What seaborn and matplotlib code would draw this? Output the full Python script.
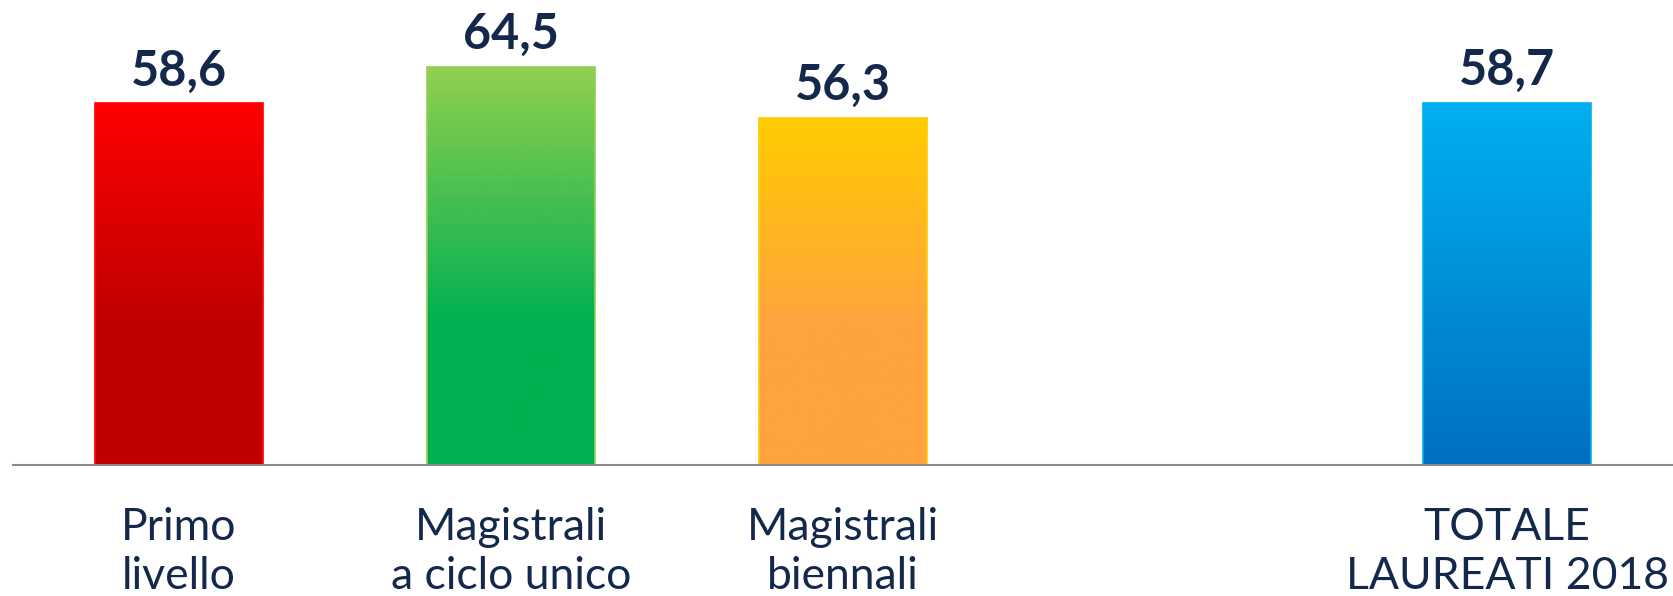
import numpy as np
import seaborn as sns
import matplotlib.pyplot as plt
from matplotlib.colors import LinearSegmentedColormap

# Data
categories = ["Primo\nlivello", "Magistrali\na ciclo unico", "Magistrali\nbiennali", "TOTALE\nLAUREATI 2018"]
values = [58.6, 64.5, 56.3, 58.7]
top_colors = ["#FF0000", "#92D050", "#FFCC00", "#00B0F0"]
bottom_colors = ["#C00000", "#00B050", "#FFA33F", "#0070C0"]
# fraction of the bar (from the top) covered by the gradient
grad_span = [0.6, 0.64, 0.6, 1.0]

# blank slot between the three types and the total
order = categories[:3] + [" "] + categories[3:]

navy = "#14284B"

sns.set_theme(style="white")
plt.rcParams['font.family'] = ['Lato', 'DejaVu Sans']

fig = plt.figure(figsize=(16.73, 5.96), dpi=100)
ax = fig.add_axes([13 / 1673, 131 / 596, 1660 / 1673, 465 / 596])

sns.barplot(x=categories, y=values, hue=categories, order=order,
            palette=dict(zip(categories, bottom_colors)), width=0.506,
            legend=False, ax=ax)

# gradient fill clipped to each bar
bars = sorted([p for p in ax.patches if np.isfinite(p.get_height()) and p.get_height() > 0],
              key=lambda p: p.get_x())
grad = np.linspace(0, 1, 256).reshape(-1, 1)
for p, top, bot, span in zip(bars, top_colors, bottom_colors, grad_span):
    x0, y0, w, h = p.get_x(), p.get_y(), p.get_width(), p.get_height()
    cmap = LinearSegmentedColormap.from_list("g", [(0, bot), (1 - span, bot), (1, top)])
    im = ax.imshow(grad, cmap=cmap, extent=[x0, x0 + w, y0, y0 + h],
                   origin="lower", aspect="auto", zorder=1)
    im.set_clip_path(p)
    p.set_facecolor("none")
    p.set_edgecolor(top)
    p.set_linewidth(1.2)
    p.set_zorder(2)

# value labels with comma decimals
for c, v in zip(ax.containers, values):
    ax.bar_label(c, labels=[f"{v:.1f}".replace(".", ",")], padding=7,
                 fontsize=35, fontweight="bold", color=navy)

ax.set_xlim(-0.5, 4.5)
ax.set_ylim(0, 75.36)
ax.set_yticks([])
ax.set_xlabel("")
ax.set_ylabel("")
ax.tick_params(axis="x", length=0, pad=30, labelsize=32, labelcolor=navy)
for t in ax.get_xticklabels():
    t.set_linespacing(1.25)

for s in ["left", "top", "right"]:
    ax.spines[s].set_visible(False)
ax.spines["bottom"].set_color("#8C8C8C")
ax.spines["bottom"].set_linewidth(1.5)

fig.savefig("out.png", dpi=100)
